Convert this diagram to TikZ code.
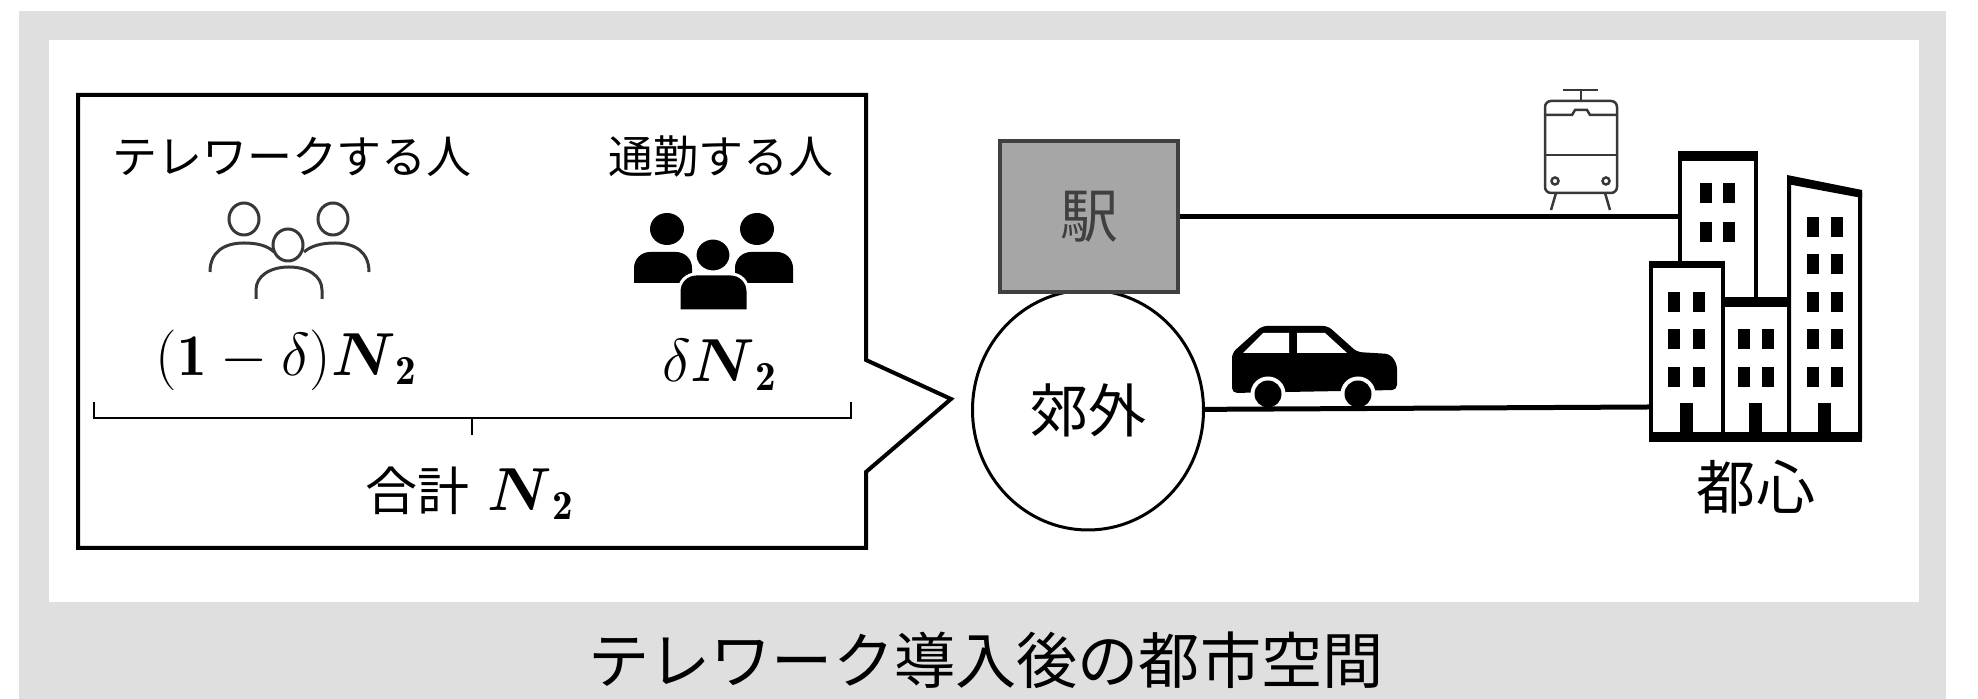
\documentclass[tikz,border=0pt]{standalone}
\usepackage{fontspec}
\usepackage{amsmath}
\usetikzlibrary{shapes.geometric}

\newfontfamily\jpfont{Noto Sans CJK JP}

\definecolor{framegray}{HTML}{DFDFDF}
\definecolor{stationgray}{HTML}{A6A6A6}
\definecolor{darkline}{HTML}{404040}
\definecolor{iconline}{HTML}{383838}

\tikzset{
  road/.style={line width=0.5mm},
  bldg/.style={draw, fill=white, line width=0.4mm},
  win/.style={fill=black},
}

\begin{document}
\begin{tikzpicture}[x=0.1mm, y=-0.1mm]
  \useasboundingbox (0,0) rectangle (1978,699);

  % frame
  \fill[framegray] (19,11) rectangle (1946,699);
  \fill[white] (49,40) rectangle (1919,602);

  % speech bubble
  \draw[line width=0.4mm] (78,95) -- (866,95) -- (866,360) -- (951,399)
    -- (866,472) -- (866,548) -- (78,548) -- cycle;

  \begin{scope}[every node/.style={font=\jpfont\fontsize{12.8}{15}\selectfont}]
    \node (tele) at (292,157) {テレワークする人};
    \node (comm) at (721,157) {通勤する人};
  \end{scope}

  \begin{scope}[every node/.style={font=\fontsize{16.8}{20}\selectfont}]
    \node (teleN) at (287,360) {$(\mathbf{1}-\delta)\boldsymbol{N}_{\mathbf{2}}$};
    \node (commN) at (720,365) {$\delta\boldsymbol{N}_{\mathbf{2}}$};
    \node (total) at (470,493) {{\jpfont\fontsize{14.8}{17}\selectfont 合計} $\boldsymbol{N}_{\mathbf{2}}$};
  \end{scope}

  \draw[line width=0.2mm] (94,402) -- (94,418) -- (851,418) -- (851,402)
    (472,418) -- (472,435);

  % people working at home
  \begin{scope}[line width=0.3mm, draw=iconline]
    \draw (244,219) ellipse [x radius=1.5mm, y radius=1.6mm];
    \draw (333,219) ellipse [x radius=1.5mm, y radius=1.6mm];
    \draw (288,245) ellipse [x radius=1.5mm, y radius=1.6mm];
    \draw (210,272) .. controls (210,252) and (224,243) .. (244,243)
      .. controls (258,243) and (268,246) .. (274,252);
    \draw (369,272) .. controls (369,252) and (355,243) .. (335,243)
      .. controls (321,243) and (311,246) .. (304,252);
    \draw (256,299) -- (256,290) .. controls (256,276) and (270,267) .. (289,267)
      .. controls (308,267) and (322,276) .. (322,290) -- (322,299);
  \end{scope}

  % people commuting
  \begin{scope}
    \fill (667,229) ellipse [x radius=1.7mm, y radius=1.6mm];
    \fill (757,229) ellipse [x radius=1.7mm, y radius=1.6mm];
    \fill (634,283) [rounded corners=1.6mm] -- (634,252) -- (692,252)
      [sharp corners] -- (692,283) -- cycle;
    \fill (735,283) [rounded corners=1.6mm] -- (735,252) -- (793,252)
      [sharp corners] -- (793,283) -- cycle;
    \filldraw[draw=white, line width=0.3mm] (713,255) ellipse [x radius=1.8mm, y radius=1.7mm];
    \filldraw[draw=white, line width=0.3mm] (679,311) [rounded corners=1.7mm]
      -- (679,274) -- (748,274) [sharp corners] -- (748,311) -- cycle;
  \end{scope}

  % suburb and station
  \node[draw, ellipse, line width=0.3mm, minimum width=23.1mm, minimum height=24mm,
    font=\jpfont\fontsize{16.5}{18}\selectfont] (suburb) at (1088,410) {郊外};
  \node[draw=darkline, fill=stationgray, line width=0.4mm, minimum width=17.8mm,
    minimum height=15.1mm, text=darkline,
    font=\jpfont\fontsize{16.5}{18}\selectfont] (station) at (1089,217) {駅};

  % train
  \begin{scope}[draw=iconline, line width=0.25mm]
    \draw (1563,90) -- (1598,90) (1581,90) -- (1581,101);
    \draw[rounded corners=0.6mm] (1545,101) rectangle (1617,193);
    \draw (1545,115) -- (1572,115) -- (1575,110) -- (1587,110) -- (1590,115) -- (1617,115);
    \draw (1545,155) -- (1617,155);
    \draw (1555,181) circle [radius=0.35mm] (1606,181) circle [radius=0.35mm];
    \draw (1556,193) -- (1551,210) (1605,193) -- (1610,210);
  \end{scope}

  % car
  \fill[rounded corners=0.5mm] (1232,393) -- (1232,353) -- (1262,326) -- (1328,326)
    -- (1357,352) -- (1390,354) -- (1397,364) -- (1397,390) -- cycle;
  \fill[white] (1243,353) -- (1263,333) -- (1289,333) -- (1289,353) -- cycle;
  \fill[white] (1297,333) -- (1325,333) -- (1347,353) -- (1297,353) -- cycle;
  \foreach \wx in {1268,1358} {
    \fill[white] (\wx,394) circle [radius=1.75mm];
    \fill (\wx,394) circle [radius=1.35mm];
  }

  % buildings
  \coordinate (towerW) at (1680,217);
  \coordinate (lowW) at (1649,407);
  \draw[road] (station) -- (towerW);
  \draw[road] (suburb) -- (lowW);

  \begin{scope}[line width=0.4mm]
    \filldraw[fill=white] (1680,300) -- (1680,155) -- (1756,155) -- (1756,300);
    \fill (1678,151) rectangle (1758,161);
    \filldraw[fill=white] (1651,437) rectangle (1723,263);
    \fill (1649,261) rectangle (1725,268);
    \filldraw[fill=white] (1723,437) rectangle (1789,299);
    \fill (1721,297) rectangle (1791,307);
    \filldraw[fill=white] (1789,437) -- (1789,179) -- (1860,194) -- (1860,437) -- cycle;
    \fill (1787,175) -- (1862,190) -- (1862,198) -- (1787,184) -- cycle;
    \fill (1649,432) rectangle (1862,442);
    \foreach \dx in {1680,1749,1818}
      \fill (\dx,403) rectangle ++(13,29);
    \foreach \wy in {183,222}
      \foreach \wx in {1700,1723}
        \fill[win] (\wx,\wy) rectangle ++(12,20);
    \foreach \wy in {292,329,367}
      \foreach \wx in {1668,1693}
        \fill[win] (\wx,\wy) rectangle ++(12,20);
    \foreach \wy in {329,367}
      \foreach \wx in {1738,1762}
        \fill[win] (\wx,\wy) rectangle ++(12,20);
    \foreach \wy in {217,254,292,329,367}
      \foreach \wx in {1807,1831}
        \fill[win] (\wx,\wy) rectangle ++(12,20);
  \end{scope}

  \node[font=\jpfont\fontsize{16.8}{19}\selectfont] (city) at (1756,487) {都心};

  \node[font=\jpfont\fontsize{17.4}{20}\selectfont] (title) at (986,660) {テレワーク導入後の都市空間};
\end{tikzpicture}
\end{document}
